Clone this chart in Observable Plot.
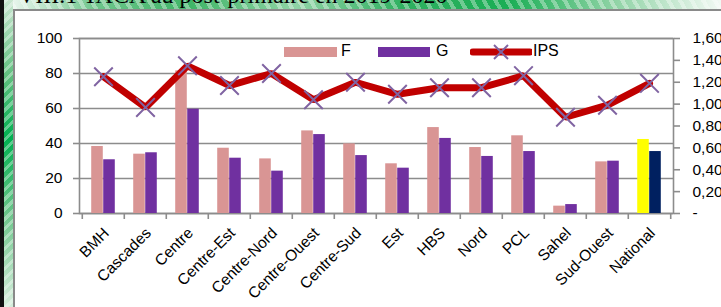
<!DOCTYPE html>
<html>
<head>
<meta charset="utf-8">
<script src="https://cdn.jsdelivr.net/npm/d3@7"></script>
<script src="https://cdn.jsdelivr.net/npm/@observablehq/plot@0.6"></script>
<style>
  html, body { margin: 0; padding: 0; background: #fff; }
  #page { position: relative; width: 721px; height: 307px; overflow: hidden; background: #fff; }
  #blackstrip { position: absolute; left: 0; top: 0; width: 4px; height: 307px; background: #111; }
  #leftband { position: absolute; left: 4px; top: 0; width: 9px; height: 307px;
    background:
      repeating-linear-gradient(135deg, rgba(255,255,255,0.35) 0 3px, rgba(255,255,255,0) 3px 7px),
      linear-gradient(180deg, #c8e6cf 0%, #5fbf7e 25%, #00b050 45%, #6cc58a 70%, #d6eedc 100%); }
  #topband { position: absolute; left: 13px; top: 0; width: 708px; height: 9px;
    background:
      repeating-linear-gradient(60deg, rgba(255,255,255,0.35) 0 4px, rgba(255,255,255,0) 4px 10px),
      linear-gradient(90deg, #e8f5ec 0%, #6cc58a 12%, #3fb567 25%, #8fd3a5 40%, #2fb060 55%, #1aae55 70%, #8fd3a5 85%, #f2f9f4 100%); }
  #title { position: absolute; left: 18px; top: -18px; font-family: "Liberation Serif", "Times New Roman", serif; font-size: 24px; color: #000; white-space: nowrap; }
  #frame { position: absolute; left: 13px; top: 9px; width: 720px; height: 320px; border-left: 2px solid #8a8a8a; border-top: 2px solid #8a8a8a; background: #fff; }
  #chart { position: absolute; left: 15px; top: 11px; }
  #legend { position: absolute; top: 40px; left: 0; font-family: "Liberation Sans", Arial, sans-serif; font-size: 16px; color: #000; }
  .sw { position: absolute; height: 10px; top: 7px; }
  .lt { position: absolute; top: 0; line-height: 22px; }
</style>
</head>
<body>
<div id="page">
  <div id="blackstrip"></div>
  <div id="leftband"></div>
  <div id="topband"></div>
  <div id="title">VIII.1 TACA au post-primaire en 2019-2020</div>
  <div id="frame"></div>
  <div id="chart"></div>
  <div id="legend">
    <div class="sw" style="left:284px;width:53px;background:#d99594;"></div>
    <div class="lt" style="left:341px;">F</div>
    <div class="sw" style="left:378px;width:52px;background:#7030a0;"></div>
    <div class="lt" style="left:436px;">G</div>
    <svg style="position:absolute;left:470px;top:0;" width="62" height="24">
      <line x1="3" y1="12" x2="60" y2="12" stroke="#c00000" stroke-width="7" stroke-linecap="round"/>
      <line x1="24" y1="5" x2="38" y2="19" stroke="#8064a2" stroke-width="2"/>
      <line x1="24" y1="19" x2="38" y2="5" stroke="#8064a2" stroke-width="2"/>
    </svg>
    <div class="lt" style="left:533px;">IPS</div>
  </div>
</div>
<script>
const categories = ["BMH","Cascades","Centre","Centre-Est","Centre-Nord","Centre-Ouest","Centre-Sud","Est","HBS","Nord","PCL","Sahel","Sud-Ouest","National"];
const F = [38.3,33.9,81.5,37.3,31.2,47.2,39.8,28.4,49.1,37.7,44.4,4.2,29.5,42.3];
const G = [30.7,34.7,59.6,31.6,24.2,45.1,33.1,25.9,42.9,32.6,35.4,5.1,29.9,35.4];
const IPS = [1.25,0.97,1.35,1.17,1.28,1.04,1.20,1.09,1.15,1.15,1.26,0.88,0.99,1.19];
const leftTicks = [0,20,40,60,80,100];
const rightTicks = [0,0.2,0.4,0.6,0.8,1.0,1.2,1.4,1.6];
const nationalCat = "National";

const leftMax = 100, rightMax = 1.6;
const k = leftMax / rightMax;

const data = categories.map((c, i) => ({cat: c, F: F[i], G: G[i], ips: IPS[i]}));

const W = 706, H = 296, mL = 64, mR = 48, mT = 27, mB = 94;
const bw = (W - mL - mR) / categories.length;
const barW = 12;
const grid = "#8c8c8c";

const chart = Plot.plot({
  width: W, height: H,
  marginLeft: mL, marginRight: mR, marginTop: mT, marginBottom: mB,
  x: {domain: categories, padding: 0, label: null},
  y: {domain: [0, leftMax], label: null},
  style: {background: "transparent", fontFamily: "'Liberation Sans', Arial, sans-serif", fontSize: "15px", color: "#000", overflow: "visible"},
  marks: [
    Plot.gridY({ticks: leftTicks, stroke: grid, strokeOpacity: 1, strokeWidth: 1.6}),
    Plot.frame({stroke: grid, strokeWidth: 1.6}),
    Plot.axisY({anchor: "left", ticks: leftTicks, tickSize: 6, tickPadding: 11, stroke: grid, strokeWidth: 1.6, label: null, fontSize: 15.5}),
    Plot.axisY({anchor: "right", ticks: rightTicks.map(v => v * k),
      tickFormat: v => v === 0 ? "-" : (v / k).toFixed(2).replace(".", ","),
      tickSize: 6, tickPadding: 13, stroke: grid, strokeWidth: 1.6, label: null, fontSize: 15.5}),
    Plot.axisX({tickSize: 6, dx: -bw / 2, tickFormat: () => "", stroke: grid, strokeWidth: 1.6, label: null}),
    Plot.axisX({ticks: [nationalCat], tickSize: 6, dx: bw / 2, tickFormat: () => "", stroke: grid, strokeWidth: 1.6, label: null}),
    Plot.axisX({tickSize: 0, tickRotate: -45, tickPadding: 17, dx: 3, label: null, fontSize: 15.5}),
    Plot.barY(data, {x: "cat", y: "F", fill: d => d.cat === nationalCat ? "#ffff00" : "#d99594",
      insetLeft: bw / 2 - barW, insetRight: bw / 2}),
    Plot.barY(data, {x: "cat", y: "G", fill: d => d.cat === nationalCat ? "#002060" : "#7030a0",
      insetLeft: bw / 2, insetRight: bw / 2 - barW}),
    Plot.line(data, {x: "cat", y: d => d.ips * k, stroke: "#c00000", strokeWidth: 7, strokeLinejoin: "miter"}),
    Plot.dot(data, {x: "cat", y: d => d.ips * k, symbol: "times", r: 8.5, stroke: "#8064a2", strokeWidth: 2})
  ]
});
document.getElementById("chart").appendChild(chart);
</script>
</body>
</html>
